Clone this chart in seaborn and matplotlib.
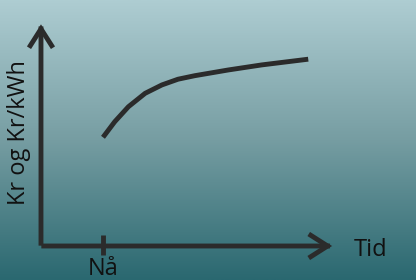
import numpy as np
import matplotlib
matplotlib.use("Agg")
import matplotlib.pyplot as plt
import seaborn as sns
from matplotlib.colors import LinearSegmentedColormap
from matplotlib.patches import FancyArrowPatch

# price development over time (arbitrary units, "Nå" at t=1)
time = [1.0, 1.19, 1.41, 1.68, 1.95, 2.21, 2.48, 3.02, 3.56, 4.31]
price = [4.94, 5.65, 6.33, 6.94, 7.32, 7.58, 7.74, 8.0, 8.23, 8.49]
now_label = "Nå"
x_label = "Tid"
y_label = "Kr og Kr/kWh"

sns.set_theme(style="white")
plt.rcParams["font.family"] = ["Open Sans", "DejaVu Sans"]

fig = plt.figure(figsize=(4.16, 2.8), dpi=100)
ax = fig.add_axes([0, 0, 1, 1])
ax.set_xlim(-0.661, 6.048)
ax.set_ylim(-1.545, 11.18)
ax.axis("off")

# background gradient
bg = LinearSegmentedColormap.from_list("bg", ["#2a6870", "#769da2", "#aecdd2"])
grad = np.linspace(0, 1, 256).reshape(-1, 1)
ax.imshow(grad, cmap=bg, origin="lower", aspect="auto",
          extent=[-0.661, 6.048, -1.545, 11.18], zorder=0)

dark = "#2b2b2b"
lw = 3.5

sns.lineplot(x=time, y=price, ax=ax, color=dark, linewidth=lw,
             solid_capstyle="butt", solid_joinstyle="round", zorder=3)

# axes arrows
for end in [(4.74, 0), (0, 10.2)]:
    arr = FancyArrowPatch((0, 0), end, arrowstyle="->,head_length=0.55,head_width=0.35",
                          mutation_scale=22, color=dark, linewidth=lw,
                          capstyle="projecting", joinstyle="miter", zorder=3)
    ax.add_patch(arr)

# "Nå" tick
ax.plot([1.0, 1.0], [-0.41, 0.5], color=dark, linewidth=lw, solid_capstyle="butt", zorder=3)

txt = dict(ha="center", fontsize=17, color="#111111")
ax.text(1.0, -1.32, now_label, va="baseline", **txt)
ax.text(5.31, -0.44, x_label, va="baseline", **txt)
ax.text(-0.36, 5.16, y_label, rotation=90, va="center", **txt)

fig.savefig("out.png", dpi=100)
